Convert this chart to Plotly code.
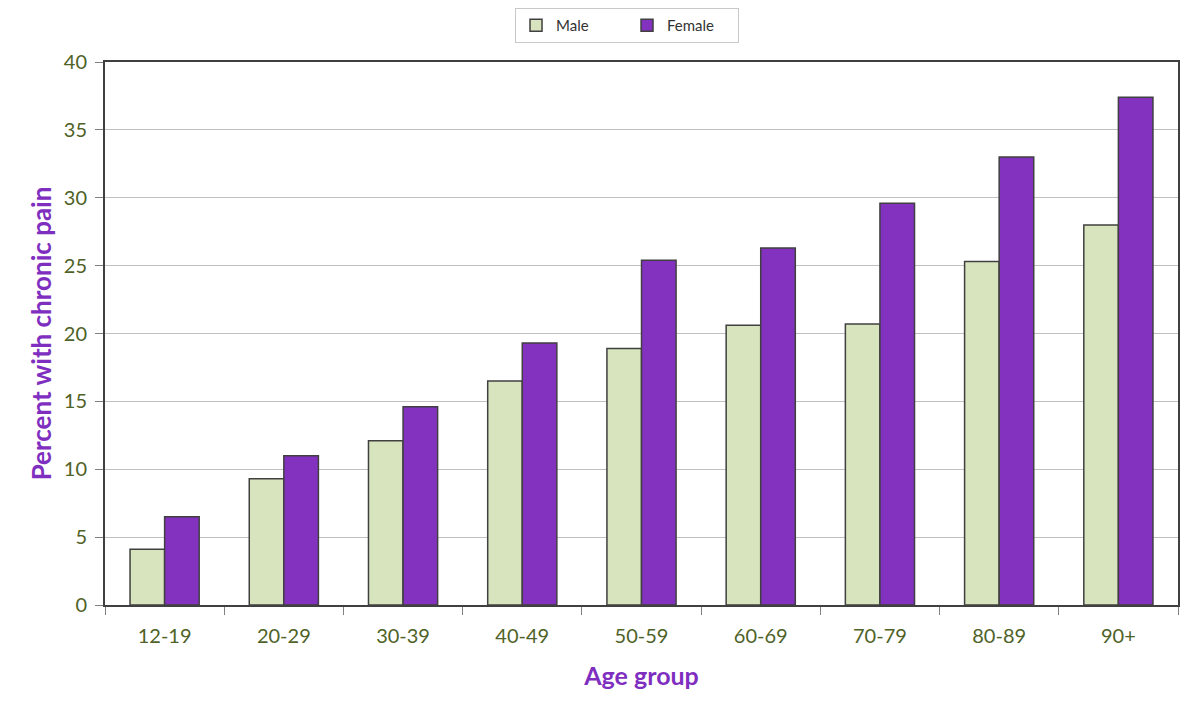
import plotly.graph_objects as go

categories = ["12-19", "20-29", "30-39", "40-49", "50-59", "60-69", "70-79", "80-89", "90+"]
male = [4.1, 9.3, 12.1, 16.5, 18.9, 20.6, 20.7, 25.3, 28.0]
female = [6.5, 11.0, 14.6, 19.3, 25.4, 26.3, 29.6, 33.0, 37.4]
y_ticks = [0, 5, 10, 15, 20, 25, 30, 35, 40]

tick_color = "#4F6228"
title_color = "#7F2FBF"
font_family = "Lato, 'Open Sans', sans-serif"

fig = go.Figure()
fig.add_trace(go.Bar(x=categories, y=male, name="Male",
                     marker=dict(color="#D7E4BD", line=dict(color="#404040", width=1.5))))
fig.add_trace(go.Bar(x=categories, y=female, name="Female",
                     marker=dict(color="#8331BF", line=dict(color="#404040", width=1.5))))

fig.update_layout(
    width=1200, height=705,
    margin=dict(l=97, r=30, t=54, b=108, autoexpand=False),
    paper_bgcolor="white", plot_bgcolor="white",
    barmode="group", bargap=0.42, bargroupgap=0,
    font=dict(family=font_family, color=tick_color),
    legend=dict(orientation="h", x=0.4865, xanchor="center", y=1.0994, yanchor="top",
                bordercolor="#C8C8C8", borderwidth=1, font=dict(size=15, color="#333333"),
                entrywidth=66, entrywidthmode="pixels", itemwidth=30,
                traceorder="normal"),
    xaxis=dict(
        title=dict(text="<b>Age group</b>", font=dict(size=25, color=title_color), standoff=21),
        tickfont=dict(size=20, color=tick_color), ticklabelstandoff=12,
        showline=True, linecolor="#404040", linewidth=2, mirror=True,
        ticks="outside", tickson="boundaries", ticklen=8, tickcolor="#808080",
        showgrid=False,
    ),
    yaxis=dict(
        title=dict(text="<b>Percent with chronic pain</b>", font=dict(size=26, color=title_color), standoff=5),
        tickfont=dict(size=20, color=tick_color), ticklabelstandoff=4,
        range=[0, 40], tickvals=y_ticks,
        showline=True, linecolor="#404040", linewidth=2, mirror=True,
        ticks="outside", ticklen=8, tickcolor="#808080",
        showgrid=True, gridcolor="#C0C0C0", gridwidth=1, zeroline=False,
    ),
)

fig.write_html("out.html")
